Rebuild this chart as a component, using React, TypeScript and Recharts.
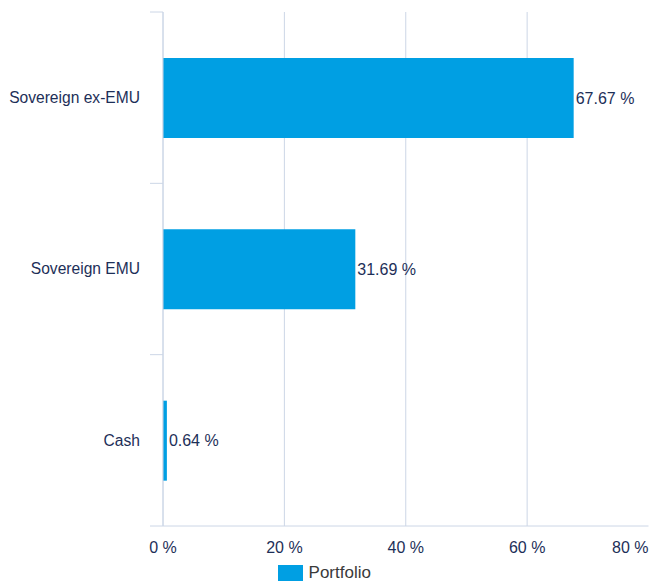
import React from "react";
import {
  Bar,
  BarChart,
  CartesianGrid,
  LabelList,
  Legend,
  XAxis,
  YAxis,
} from "recharts";

const categories = ["Sovereign ex-EMU", "Sovereign EMU", "Cash"];
const portfolio = [67.67, 31.69, 0.64];
const axisTicks = [0, 20, 40, 60, 80];
const gridTicks = [0, 20, 40, 60];
const domainMax = 80;

const data = categories.map((name, i) => ({ name, portfolio: portfolio[i] }));

const W = 650;
const H = 583;
const PLOT_TOP = 12;
const PLOT_BOTTOM = 526;
const band = (PLOT_BOTTOM - PLOT_TOP) / categories.length;

const NAVY = "#1d2f58";
const GRID = "#ccd6e6";
const BLUE = "#009fe3";
const FONT = "'Liberation Sans', Arial, Helvetica, sans-serif";

function CategoryTick(props: any) {
  const { x, y, payload, index } = props;
  return (
    <g>
      <line x1={x + 10} x2={x + 23} y1={y - band / 2} y2={y - band / 2} stroke={GRID} />
      {index === categories.length - 1 && (
        <line x1={x + 10} x2={x + 23} y1={y + band / 2} y2={y + band / 2} stroke={GRID} />
      )}
      <text
        x={x}
        y={y}
        dy="0.35em"
        textAnchor="end"
        fill={NAVY}
        fontSize={15.6}
        fontFamily={FONT}
      >
        {payload.value}
      </text>
    </g>
  );
}

function ValueTick(props: any) {
  const { x, y, payload, index } = props;
  const last = index === axisTicks.length - 1;
  return (
    <text
      x={x}
      y={y}
      dy="0.35em"
      textAnchor={last ? "end" : "middle"}
      fill={NAVY}
      fontSize={16}
      fontFamily={FONT}
    >
      {`${payload.value} %`}
    </text>
  );
}

function LegendContent() {
  return (
    <div
      style={{
        height: 27,
        display: "flex",
        justifyContent: "center",
        alignItems: "flex-start",
        paddingTop: 9,
        boxSizing: "border-box",
        fontFamily: FONT,
      }}
    >
      <span style={{ width: 25, height: 16, background: BLUE, display: "inline-block" }} />
      <span style={{ marginLeft: 6, fontSize: 17, color: "#3a3a3a", lineHeight: "16px" }}>
        Portfolio
      </span>
    </div>
  );
}

// vertical grid only at gridTicks (no line at the last tick)
const gridGenerator = (props: any) => {
  const scale = props?.xAxis?.scale;
  if (typeof scale === "function") return gridTicks.map((v) => scale(v));
  if (scale && typeof scale.map === "function") return gridTicks.map((v) => scale.map(v));
  const { left, width } = props.offset;
  return gridTicks.map((v) => left + (v / domainMax) * width);
};

export default function App() {
  return (
    <div style={{ position: "absolute", left: 0, top: 0, width: W, height: H, overflow: "hidden" }}>
      <BarChart
        width={W}
        height={H}
        data={data}
        layout="vertical"
        margin={{ top: PLOT_TOP, right: 1.5, bottom: 0, left: 0 }}
        barCategoryGap={0}
      >
        <CartesianGrid
          horizontal={false}
          stroke={GRID}
          verticalCoordinatesGenerator={gridGenerator}
        />
        <XAxis
          type="number"
          domain={[0, domainMax]}
          ticks={axisTicks}
          tickLine={false}
          tickSize={0}
          tickMargin={21}
          height={30}
          axisLine={{ stroke: GRID }}
          tick={<ValueTick />}
          interval={0}
        />
        <YAxis
          type="category"
          dataKey="name"
          width={163}
          tickLine={false}
          tickSize={13}
          tickMargin={10}
          axisLine={{ stroke: GRID }}
          tick={<CategoryTick />}
          interval={0}
        />
        <Legend verticalAlign="bottom" height={27} content={<LegendContent />} />
        <Bar dataKey="portfolio" name="Portfolio" fill={BLUE} barSize={80} isAnimationActive={false}>
          <LabelList
            dataKey="portfolio"
            position="right"
            offset={2}
            formatter={(v: any) => `${v} %`}
            fill={NAVY}
            fontSize={16}
            fontFamily={FONT}
          />
        </Bar>
      </BarChart>
    </div>
  );
}
